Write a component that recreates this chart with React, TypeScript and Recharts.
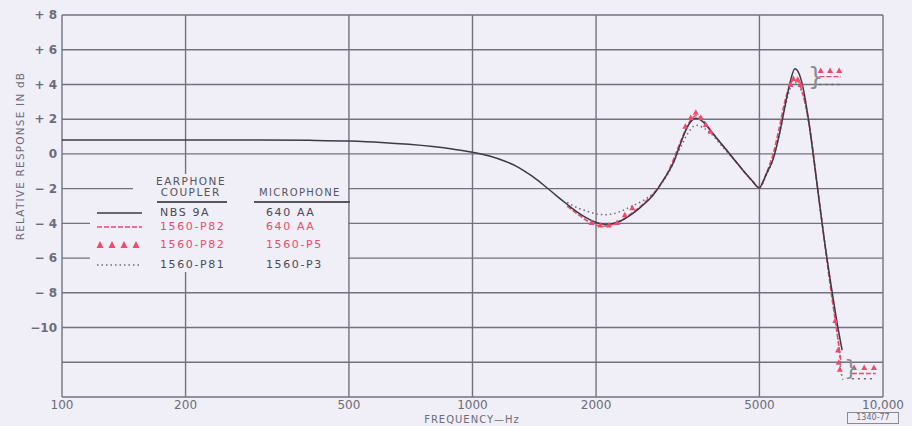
import { ComposedChart, Line, XAxis, YAxis, CartesianGrid } from 'recharts'

// frequency (Hz) / relative response (dB) pairs
const nbs9a: [number, number][] = [
  [100, 0.8], [200, 0.8], [300, 0.8], [400, 0.78], [500, 0.74], [600, 0.66], [700, 0.55],
  [800, 0.42], [900, 0.27], [1000, 0.1], [1100, -0.12], [1200, -0.42], [1300, -0.8],
  [1400, -1.3], [1500, -1.85], [1600, -2.4], [1700, -2.9], [1800, -3.35], [1900, -3.7],
  [2000, -3.95], [2100, -4.05], [2200, -4.0], [2300, -3.85], [2400, -3.6], [2500, -3.3],
  [2600, -2.95], [2700, -2.6], [2800, -2.15], [2900, -1.6], [3000, -1.05], [3100, -0.4],
  [3200, 0.5], [3300, 1.3], [3400, 1.85], [3500, 2.05], [3600, 1.95], [3700, 1.7],
  [3800, 1.35], [4000, 0.7], [4200, 0.1], [4400, -0.5], [4600, -1.05], [4800, -1.55],
  [5000, -1.95], [5100, -1.6], [5200, -1.15], [5400, -0.3], [5600, 1.2], [5800, 3.0],
  [5950, 4.2], [6100, 4.9], [6250, 4.6], [6400, 3.7], [6600, 1.8], [6800, -0.5],
  [7000, -2.8], [7200, -5.0], [7500, -7.8], [7700, -9.5], [7950, -11.3],
]

const p82_640aa: [number, number][] = [
  [1700, -3.0], [1800, -3.45], [1900, -3.85], [2000, -4.1], [2100, -4.15], [2200, -4.05],
  [2300, -3.85], [2400, -3.55], [2600, -2.9], [2800, -2.1], [3000, -1.0], [3200, 0.6],
  [3350, 1.7], [3500, 2.2], [3650, 1.9], [3800, 1.35], [4000, 0.7], [4400, -0.5],
  [4800, -1.55], [5000, -1.95], [5200, -1.1], [5400, 0.0], [5600, 1.6], [5750, 2.9],
  [5900, 3.8], [6050, 4.25], [6200, 4.2], [6350, 3.6], [6600, 1.8], [7000, -2.8],
  [7500, -8.2], [7800, -11.0], [7900, -12.0],
]

const p82_p5: [number, number][] = [
  [1950, -3.95], [2050, -4.1], [2150, -4.1], [2250, -3.95], [2350, -3.5], [2450, -3.1],
  [3300, 1.6], [3400, 2.1], [3500, 2.4], [3600, 2.1], [3700, 1.7], [3800, 1.3],
  [5950, 4.0], [6050, 4.35], [6200, 4.3], [6300, 4.0],
  [7650, -9.6], [7770, -11.3], [7800, -12.0], [7850, -12.4],
]

const p81_p3: [number, number][] = [
  [1700, -2.8], [1800, -3.1], [1900, -3.3], [2000, -3.45], [2100, -3.5], [2200, -3.45],
  [2300, -3.3], [2450, -3.0], [2600, -2.7], [2800, -2.1], [3000, -1.1], [3200, 0.3],
  [3350, 1.2], [3500, 1.65], [3650, 1.5], [3800, 1.2], [4000, 0.6], [4400, -0.5],
  [4800, -1.55], [5000, -1.95], [5200, -1.2], [5400, -0.3], [5600, 1.2], [5800, 2.9],
  [5950, 3.8], [6100, 4.1], [6250, 3.9], [6400, 3.3], [6600, 1.7], [7000, -2.8],
  [7500, -8.0], [7800, -11.0], [7900, -12.5], [7990, -13.0],
]

// bracketed side notes next to the 6 kHz peak and the cut-off
const noteTopTri: [number, number][] = [[7050, 4.8], [7430, 4.8], [7820, 4.8]]
const noteTopDash: [number, number][] = [[7000, 4.45], [7900, 4.45]]
const noteTopDot: [number, number][] = [[7000, 4.0], [7900, 4.0]]
const noteBotTri: [number, number][] = [[8500, -12.3], [9000, -12.3], [9500, -12.3]]
const noteBotDash: [number, number][] = [[8400, -12.65], [9600, -12.65]]
const noteBotDot: [number, number][] = [[8400, -12.95], [9600, -12.95]]

const FREQ_TICKS = [100, 200, 500, 1000, 2000, 5000, 10000]
const DB_TICKS = [-14, -12, -10, -8, -6, -4, -2, 0, 2, 4, 6, 8]

const BG = '#f0eef7'
const GRID = '#72727f'
const INK = '#3b3b47'
const RED = '#ef4a6c'
const GREY = '#6a6a76'
const FONT = '"DejaVu Sans", Verdana, sans-serif'

const pts = (pairs: [number, number][]) => pairs.map(([f, db]) => ({ f, db }))

const fmtDb = (v: number) => {
  if (v === 0) return '0'
  if (v <= -12) return ''
  if (v <= -10) return `\u2212${-v}`
  return v > 0 ? `+ ${v}` : `\u2212 ${-v}`
}

const fmtHz = (v: number) => (v === 10000 ? '10,000' : String(v))

function Tri(props: any) {
  const { cx, cy, index } = props
  if (cx == null || cy == null) return <g key={`t${index}`} />
  return <polygon key={`t${index}`} points={`${cx - 3},${cy + 2.5} ${cx + 3},${cy + 2.5} ${cx},${cy - 3}`} fill={RED} />
}

function LegendBox() {
  const txt = { position: 'absolute' as const, fontFamily: FONT, fontSize: 11, letterSpacing: 1.6, whiteSpace: 'nowrap' as const }
  const rows = [
    { y: 213, c: '#4a4a56', a: 'NBS 9A', b: '640 AA' },
    { y: 227, c: RED, a: '1560-P82', b: '640 AA' },
    { y: 245, c: RED, a: '1560-P82', b: '1560-P5' },
    { y: 265, c: '#4a4a56', a: '1560-P81', b: '1560-P3' },
  ]
  return (
    <>
      <div style={{ position: 'absolute', left: 133, top: 174, width: 215, height: 98, background: BG }} />
      <div style={{ position: 'absolute', left: 90, top: 194, width: 44, height: 78, background: BG }} />
      <div style={{ ...txt, left: 156, top: 176, color: '#55555f', lineHeight: '11px', fontSize: 10.5, letterSpacing: 1.5 }}>EARPHONE<br />&nbsp;COUPLER</div>
      <div style={{ position: 'absolute', left: 157, top: 201, width: 70, height: 2, background: '#55555f' }} />
      <div style={{ ...txt, left: 259, top: 187, color: '#55555f', fontSize: 10, letterSpacing: 1.3 }}>MICROPHONE</div>
      <div style={{ position: 'absolute', left: 254, top: 201, width: 96, height: 2, background: '#55555f' }} />
      <svg style={{ position: 'absolute', left: 95, top: 205 }} width={50} height={66}>
        <line x1={2} x2={47} y1={8} y2={8} stroke={INK} strokeWidth={1.6} />
        <line x1={2} x2={47} y1={22} y2={22} stroke={RED} strokeWidth={1.6} strokeDasharray="5 2" />
        {[5, 17, 29, 41].map(x => (
          <polygon key={x} points={`${x - 3.5},${43} ${x + 3.5},${43} ${x},${36}`} fill={RED} />
        ))}
        <line x1={2} x2={47} y1={60} y2={60} stroke={GREY} strokeWidth={1.4} strokeDasharray="1.5 3" />
      </svg>
      {rows.map(r => (
        <div key={r.y + r.a}>
          <div style={{ ...txt, left: 160, top: r.y - 7, color: r.c }}>{r.a}</div>
          <div style={{ ...txt, left: 266, top: r.y - 7, color: r.c }}>{r.b}</div>
        </div>
      ))}
    </>
  )
}

export default function App() {
  return (
    <div style={{ position: 'absolute', left: 0, top: 0, width: 912, height: 426, background: BG, overflow: 'hidden' }}>
      <ComposedChart width={912} height={426} margin={{ top: 15, right: 29, bottom: 9, left: 12 }}>
        <CartesianGrid stroke={GRID} strokeWidth={1.4} />
        <XAxis
          dataKey="f" type="number" scale="log" domain={[100, 10000]} ticks={FREQ_TICKS}
          allowDataOverflow interval={0} axisLine={false} tickLine={false} tickSize={1} tickMargin={2}
          height={20} tickFormatter={fmtHz}
          tick={{ fill: '#6c6c78', fontSize: 12, fontFamily: FONT }}
        />
        <YAxis
          type="number" domain={[-14, 8]} ticks={DB_TICKS} interval={0} width={50}
          axisLine={false} tickLine={false} tickSize={2} tickMargin={3} tickFormatter={fmtDb}
          tick={{ fill: '#6c6c78', fontSize: 12, fontFamily: FONT, fontWeight: 'bold' }}
        />
        <Line data={pts(p81_p3)} dataKey="db" type="monotone" stroke={GREY} strokeWidth={1.5} strokeDasharray="1.5 3" dot={false} isAnimationActive={false} />
        <Line data={pts(p82_640aa)} dataKey="db" type="monotone" stroke={RED} strokeWidth={1.6} strokeDasharray="5 2" dot={false} isAnimationActive={false} />
        <Line data={pts(nbs9a)} dataKey="db" type="monotone" stroke={INK} strokeWidth={1.5} dot={false} isAnimationActive={false} />
        <Line data={pts(p82_p5)} dataKey="db" type="monotone" stroke="none" strokeOpacity={0} dot={Tri} activeDot={false} isAnimationActive={false} />
        <Line data={pts(noteTopTri)} dataKey="db" stroke="none" strokeOpacity={0} dot={Tri} activeDot={false} isAnimationActive={false} />
        <Line data={pts(noteTopDash)} dataKey="db" stroke={RED} strokeWidth={1.4} strokeDasharray="5 2" dot={false} isAnimationActive={false} />
        <Line data={pts(noteTopDot)} dataKey="db" stroke={GREY} strokeWidth={1.4} strokeDasharray="2 4" dot={false} isAnimationActive={false} />
        <Line data={pts(noteBotTri)} dataKey="db" stroke="none" strokeOpacity={0} dot={Tri} activeDot={false} isAnimationActive={false} />
        <Line data={pts(noteBotDash)} dataKey="db" stroke={RED} strokeWidth={1.4} strokeDasharray="5 2" dot={false} isAnimationActive={false} />
        <Line data={pts(noteBotDot)} dataKey="db" stroke={GREY} strokeWidth={1.4} strokeDasharray="2 4" dot={false} isAnimationActive={false} />
      </ComposedChart>

      <div style={{ position: 'absolute', left: 20, top: 156, transform: 'translate(-50%, -50%) rotate(-90deg)', fontFamily: FONT, fontSize: 10.5, letterSpacing: 1.2, color: '#6c6c78', whiteSpace: 'nowrap' }}>
        RELATIVE RESPONSE IN dB
      </div>
      <div style={{ position: 'absolute', left: 472, top: 419, transform: 'translate(-50%, -50%)', fontFamily: FONT, fontSize: 10, lineHeight: '11px', letterSpacing: 1, color: '#6c6c78', whiteSpace: 'nowrap' }}>
        FREQUENCY{'\u2014'}Hz
      </div>
      <div style={{ position: 'absolute', left: 847, top: 412, width: 50, height: 10, border: '1px solid #8a8a96', fontFamily: FONT, fontSize: 8, lineHeight: '10px', textAlign: 'center', color: '#6c6c78' }}>
        1340-77
      </div>
      <div style={{ position: 'absolute', left: 808, top: 62, fontFamily: FONT, fontSize: 24, lineHeight: '30px', color: '#8a8a96' }}>{'}'}</div>
      <div style={{ position: 'absolute', left: 844, top: 354, fontFamily: FONT, fontSize: 22, lineHeight: '28px', color: '#8a8a96' }}>{'}'}</div>
      <LegendBox />
    </div>
  )
}
